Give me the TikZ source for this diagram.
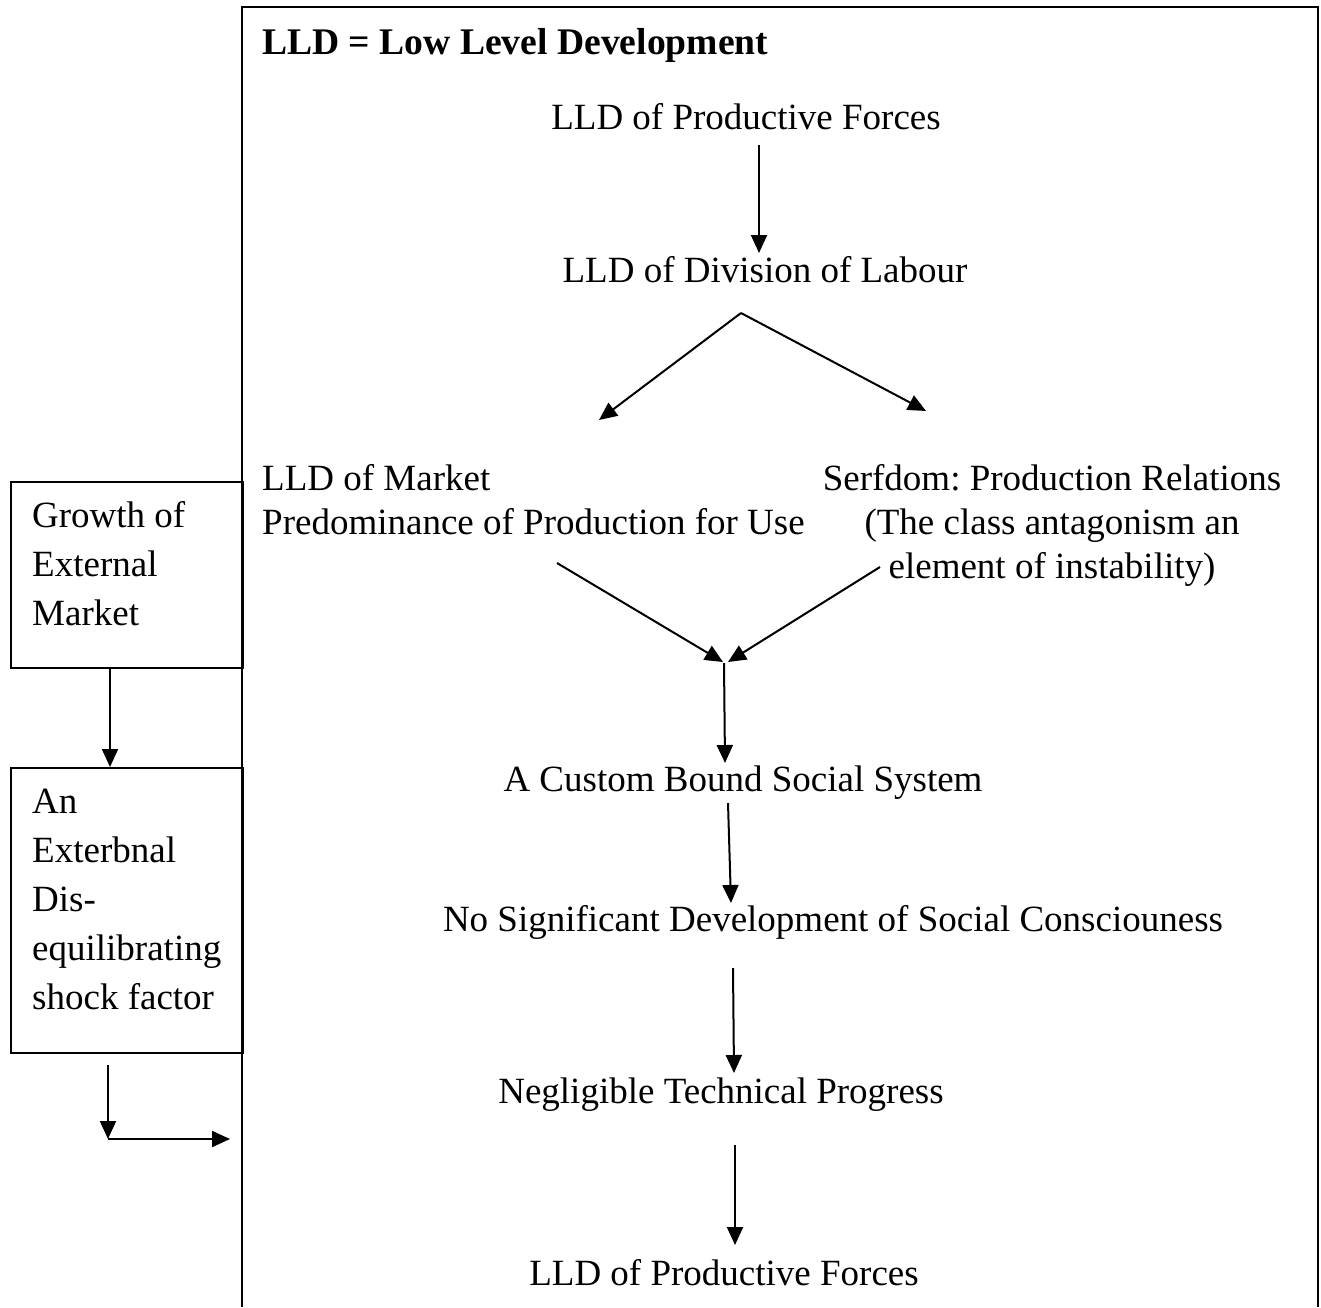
\documentclass[tikz,border=0pt]{standalone}
\usepackage{fontspec}
\setmainfont{Liberation Serif}
\usetikzlibrary{arrows.meta}
\frenchspacing
\begin{document}
\begin{tikzpicture}[x=1pt,y=-1pt,
  txt/.style={inner sep=0pt, font=\fontsize{37}{44}\selectfont},
  boxtxt/.style={inner sep=0pt, align=left, font=\fontsize{37}{49}\selectfont},
  frame/.style={draw, line width=2pt, inner sep=0pt},
  arr/.style={line width=2pt, -{Triangle[length=18pt,width=16pt]}},
  ln/.style={line width=2pt}]
\useasboundingbox (0,0) rectangle (1321,1307);
% big frame
\draw[ln] (242,1307) -- (242,7) -- (1318,7) -- (1318,1307);
% left boxes
\node[frame, anchor=north west, minimum width=232pt, minimum height=186pt] (b1) at (10,481) {};
\node[frame, anchor=north west, minimum width=232pt, minimum height=285pt] (b2) at (10,767) {};
\node[boxtxt, anchor=north west] (t1) at (32,501) {Growth of\\External\\Market};
\node[boxtxt, anchor=north west] (t2) at (32,789) {An\\Exterbnal\\Dis-\\equilibrating\\shock factor};
% texts
\node[txt, anchor=base west, font=\fontsize{37.6}{44}\selectfont\bfseries] (title) at (262,54) {LLD = Low Level Development};
\node[txt, anchor=base] (n1) at (746,129) {LLD of Productive Forces};
\node[txt, anchor=base] (n2) at (765,282) {LLD of Division of Labour};
\node[txt, anchor=north west, align=left] (n3) at (262,464) {LLD of Market\\Predominance of Production for Use};
\node[txt, anchor=north, align=center] (n4) at (1052,464) {Serfdom: Production Relations\\(The class antagonism an\\element of instability)};
\node[txt, anchor=base] (n5) at (743,791) {A Custom Bound Social System};
\node[txt, anchor=base] (n6) at (833,931) {No Significant Development of Social Consciouness};
\node[txt, anchor=base] (n7) at (721,1103) {Negligible Technical Progress};
\node[txt, anchor=base] (n8) at (724,1285) {LLD of Productive Forces};
% coordinates
\coordinate (a1s) at (759,145); \coordinate (a1e) at (759,253);
\coordinate (apex) at (741,313);
\coordinate (lt) at (599,420); \coordinate (rt) at (926,411);
\coordinate (ls) at (557,563); \coordinate (le) at (723,662);
\coordinate (rs) at (880,567); \coordinate (re) at (728,662);
\coordinate (m) at (724,663); \coordinate (me) at (725,763);
\coordinate (c1) at (728,803); \coordinate (c1e) at (731,903);
\coordinate (c2) at (733,968); \coordinate (c2e) at (734,1073);
\coordinate (c3) at (735,1145); \coordinate (c3e) at (735,1245);
\coordinate (d1) at (108,1065); \coordinate (d2) at (108,1139); \coordinate (d3) at (230,1139);
% arrows
\draw[arr] (a1s) -- (a1e);
\draw[arr] (apex) -- (lt);
\draw[arr] (apex) -- (rt);
\draw[arr] (ls) -- (le);
\draw[arr] (rs) -- (re);
\draw[arr] (m) -- (me);
\draw[arr] (c1) -- (c1e);
\draw[arr] (c2) -- (c2e);
\draw[arr] (c3) -- (c3e);
\draw[arr] (b1.south -| 110,0) -- (b2.north -| 110,0);
\draw[arr] (d1) -- (d2);
\draw[arr] (d2) -- (d3);
\end{tikzpicture}
\end{document}
